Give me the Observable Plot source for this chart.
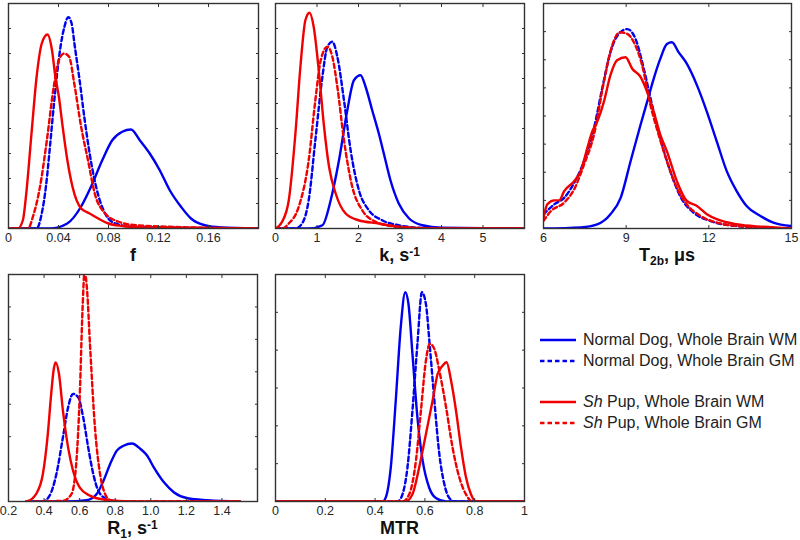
<!DOCTYPE html>
<html>
<head>
<meta charset="utf-8">
<script src="https://cdn.jsdelivr.net/npm/d3@7"></script>
<script src="https://cdn.jsdelivr.net/npm/@observablehq/plot@0.6"></script>
<style>
  html, body { margin: 0; padding: 0; background: #fff; }
  #root { position: relative; width: 800px; height: 540px; font-family: "Liberation Sans", Arial, sans-serif; color: #262626; }
  .pan { position: absolute; }
  .ttl { position: absolute; font-weight: bold; font-size: 18px; line-height: 14px; text-align: center; white-space: nowrap; color: #111; }
  .ttl sub, .ttl sup { font-size: 12px; line-height: 0; }
  .ttl sup { vertical-align: 0.42em; }
  .ttl sub { vertical-align: -0.3em; }
  .leg { position: absolute; left: 540px; width: 260px; font-size: 16px; color: #222; }
  .row { position: absolute; left: 0; height: 20px; white-space: nowrap; display: flex; align-items: center; }
  .row svg { margin-right: 7px; }
</style>
</head>
<body>
<div id="root"></div>
<script>
// ---------- data: [x, relative density] ----------
// Panel f
const f_normWM = [[0,0],[0.033,0],[0.047,0.2],[0.058,0.87],[0.066,1.67],[0.075,2.73],[0.083,3.53],[0.091,3.87],[0.098,3.96],[0.105,3.53],[0.113,3.0],[0.121,2.33],[0.129,1.53],[0.138,0.87],[0.146,0.4],[0.157,0.13],[0.17,0.04],[0.2,0]];
const f_normGM = [[0,0],[0.0225,0],[0.0266,0.6],[0.030,1.7],[0.0334,3.4],[0.0362,4.9],[0.0389,6.2],[0.0417,7.3],[0.0444,8.0],[0.0478,8.45],[0.0505,8.2],[0.053,7.3],[0.0567,6.0],[0.0608,4.4],[0.0649,3.0],[0.0704,1.6],[0.0773,0.6],[0.0855,0.2],[0.102,0.06],[0.2,0]];
const f_pupWM = [[0,0],[0.0074,0],[0.0115,0.33],[0.0142,1.4],[0.0184,3.8],[0.0225,6.07],[0.0266,7.4],[0.0312,7.76],[0.0348,7.13],[0.0375,6.07],[0.0403,5.27],[0.043,4.2],[0.0471,2.73],[0.0512,1.67],[0.0581,0.8],[0.0649,0.6],[0.0718,0.4],[0.08,0.2],[0.091,0.1],[0.107,0.04],[0.2,0]];
const f_pupGM = [[0,0],[0.0156,0],[0.0197,0.5],[0.0252,1.67],[0.0307,3.53],[0.0362,5.67],[0.0403,6.73],[0.0444,7.0],[0.0485,6.87],[0.0526,5.8],[0.0581,4.07],[0.0636,2.73],[0.069,1.4],[0.0773,0.6],[0.0882,0.27],[0.102,0.13],[0.129,0.07],[0.2,0]];
// Panel k
const k_normWM = [[0,0],[0.8,0],[1.13,0.13],[1.33,1.13],[1.53,2.73],[1.73,4.73],[1.89,5.93],[2.05,6.13],[2.17,5.67],[2.33,4.73],[2.49,3.8],[2.61,3.0],[2.77,1.93],[2.97,1.0],[3.22,0.4],[3.54,0.13],[4.0,0.03],[6,0]];
const k_normGM = [[0,0],[0.48,0],[0.64,0.2],[0.8,1.13],[0.96,3.53],[1.13,6.07],[1.25,7.27],[1.37,7.47],[1.49,6.87],[1.65,5.13],[1.81,3.13],[2.01,1.53],[2.25,0.73],[2.57,0.33],[2.97,0.13],[3.6,0.02],[6,0]];
const k_pupWM = [[0,0],[0.16,0.27],[0.32,1.13],[0.48,3.8],[0.6,6.47],[0.72,8.33],[0.82,8.63],[0.92,8.07],[1.05,6.2],[1.17,4.07],[1.29,2.47],[1.45,1.4],[1.69,0.6],[2.0,0.33],[2.49,0.2],[2.97,0.07],[3.8,0],[6,0]];
const k_pupGM = [[0,0],[0.16,0],[0.32,0.2],[0.56,0.87],[0.8,2.73],[0.96,5.13],[1.09,6.73],[1.25,7.27],[1.37,6.87],[1.49,5.67],[1.65,3.53],[1.85,1.67],[2.09,0.73],[2.41,0.27],[2.81,0.09],[3.4,0],[6,0]];
// Panel T2b
const t_normWM = [[6.0,0],[7.35,0.04],[7.95,0.15],[8.43,0.51],[8.8,1.09],[9.16,2.39],[9.52,3.68],[9.76,4.5],[10.0,5.33],[10.24,6.04],[10.48,6.56],[10.66,6.62],[10.9,6.27],[11.2,5.86],[11.57,5.09],[11.93,4.15],[12.29,3.09],[12.65,2.04],[13.01,1.33],[13.37,0.8],[13.86,0.45],[14.34,0.21],[15,0.09]];
const t_normGM = [[6.0,0.5],[6.39,0.86],[6.75,1.09],[7.11,1.62],[7.47,2.39],[7.83,3.56],[8.13,4.98],[8.43,6.27],[8.73,6.92],[9.04,7.09],[9.34,6.74],[9.64,5.68],[9.94,4.39],[10.24,3.21],[10.6,2.04],[10.96,1.15],[11.45,0.56],[12.05,0.27],[13.0,0.09],[15,0]];
const t_pupWM = [[6.0,0.39],[6.14,0.86],[6.39,1.0],[6.57,1.0],[6.75,1.33],[7.11,1.68],[7.35,2.04],[7.59,2.86],[7.77,3.45],[7.95,3.8],[8.19,4.5],[8.43,5.45],[8.67,5.98],[8.98,6.09],[9.22,5.68],[9.52,5.39],[9.76,4.86],[10.0,4.15],[10.24,3.33],[10.48,2.74],[10.84,1.68],[11.2,0.98],[11.57,0.8],[11.93,0.51],[12.29,0.33],[13.0,0.15],[13.98,0.06],[15,0]];
const t_pupGM = [[6.0,0.27],[6.27,0.62],[6.75,0.92],[7.11,1.39],[7.47,2.27],[7.83,3.33],[8.19,5.21],[8.49,6.5],[8.77,6.98],[9.04,6.92],[9.28,6.62],[9.58,5.8],[9.88,4.39],[10.18,3.33],[10.48,2.39],[10.84,1.45],[11.2,0.86],[11.69,0.45],[12.29,0.21],[13.25,0.07],[15,0]];
// Panel R1
const r_normWM = [[0.3,0],[0.525,0],[0.639,0.04],[0.696,0.23],[0.734,0.64],[0.771,1.15],[0.809,1.57],[0.847,1.72],[0.894,1.79],[0.942,1.62],[0.98,1.41],[1.017,1.05],[1.074,0.59],[1.131,0.28],[1.207,0.1],[1.32,0.04],[1.5,0]];
const r_normGM = [[0.3,0],[0.393,0],[0.431,0.18],[0.469,0.84],[0.506,1.98],[0.535,2.9],[0.563,3.32],[0.592,3.21],[0.62,2.6],[0.648,1.67],[0.677,0.84],[0.705,0.33],[0.752,0.07],[0.8,0],[1.5,0]];
const r_pupWM = [[0.3,0],[0.336,0.1],[0.355,0.23],[0.393,0.84],[0.421,2.08],[0.44,3.32],[0.455,4.1],[0.465,4.29],[0.484,3.93],[0.506,2.8],[0.535,1.67],[0.563,0.95],[0.601,0.43],[0.658,0.18],[0.734,0.06],[0.9,0],[1.5,0]];
const r_pupGM = [[0.3,0],[0.506,0.02],[0.554,0.23],[0.582,1.26],[0.601,3.32],[0.616,5.89],[0.628,7.1],[0.642,6.5],[0.658,4.86],[0.686,2.29],[0.715,0.84],[0.743,0.23],[0.771,0.04],[0.8,0],[1.5,0]];
// Panel MTR
const m_normWM = [[0,0],[0.43,0],[0.443,0.11],[0.463,0.9],[0.483,2.67],[0.503,4.61],[0.521,5.53],[0.534,5.22],[0.55,3.9],[0.57,2.22],[0.591,1.08],[0.617,0.37],[0.644,0.09],[0.685,0],[1,0]];
const m_normGM = [[0,0],[0.49,0],[0.51,0.19],[0.53,0.9],[0.55,2.4],[0.57,4.17],[0.588,5.53],[0.604,5.22],[0.62,4.08],[0.638,2.67],[0.658,1.25],[0.678,0.46],[0.698,0.09],[0.72,0],[1,0]];
const m_pupWM = [[0,0],[0.523,0],[0.55,0.19],[0.577,0.9],[0.604,1.78],[0.631,2.67],[0.651,3.37],[0.671,3.59],[0.687,3.68],[0.705,3.2],[0.725,2.4],[0.745,1.43],[0.765,0.64],[0.785,0.19],[0.805,0],[1,0]];
const m_pupGM = [[0,0],[0.51,0],[0.537,0.19],[0.564,1.08],[0.584,2.4],[0.604,3.72],[0.62,4.17],[0.638,4.03],[0.658,3.46],[0.685,2.49],[0.711,1.43],[0.738,0.64],[0.765,0.19],[0.79,0],[1,0]];

// tick values
const f_ticks = [0, 0.04, 0.08, 0.12, 0.16];
const k_ticks = [0, 1, 2, 3, 4, 5];
const t_ticks = [6, 9, 12, 15];
const r_ticks = [0.2, 0.4, 0.6, 0.8, 1.0, 1.2, 1.4];
const m_ticks = [0, 0.2, 0.4, 0.6, 0.8, 1];

// series & legend labels
const seriesNames = ["Normal Dog, Whole Brain WM", "Normal Dog, Whole Brain GM", "Sh Pup, Whole Brain WM", "Sh Pup, Whole Brain GM"];

const BLUE = "#0000f0", RED = "#f00000";
const styles = [
  {stroke: BLUE, dash: null},
  {stroke: BLUE, dash: "4.5,3"},
  {stroke: RED, dash: null},
  {stroke: RED, dash: "4.5,3"}
];

const root = document.getElementById("root");

function panel({left, top, frameW, frameH, series, xDomain, xTicks, yMax, tickFormat, title}) {
  const mL = 8, mT = 3, mB = 37;
  const width = frameW + mL + 10, height = frameH + mT + mB;
  const yTicks = d3.range(1, yMax);
  const marks = [];
  series.forEach((pts, i) => {
    marks.push(Plot.line(pts, {
      x: d => d[0], y: d => d[1],
      stroke: styles[i].stroke, strokeWidth: 2.4,
      strokeDasharray: styles[i].dash, curve: "monotone-x", clip: true,
      strokeLinejoin: "round"
    }));
  });
  marks.push(
    Plot.axisX({anchor: "bottom", ticks: xTicks, tickSize: -3, tickPadding: 8, tickFormat, label: null, fontSize: 12.5, stroke: "#333"}),
    Plot.axisX({anchor: "top", ticks: xTicks, tickSize: -3, tickFormat: () => "", label: null, stroke: "#333"}),
    Plot.axisY({anchor: "left", ticks: yTicks, tickSize: -3, tickFormat: () => "", label: null, stroke: "#333"}),
    Plot.axisY({anchor: "right", ticks: yTicks, tickSize: -3, tickFormat: () => "", label: null, stroke: "#333"}),
    Plot.frame({stroke: "#333", strokeWidth: 1.4})
  );
  const svg = Plot.plot({
    width, height,
    marginLeft: mL, marginRight: 10, marginTop: mT, marginBottom: mB,
    x: {domain: xDomain},
    y: {domain: [0, yMax]},
    style: {fontFamily: "'Liberation Sans', Arial, sans-serif", fontSize: "12.5px", color: "#262626", background: "transparent", overflow: "visible"},
    marks
  });
  svg.classList.add("pan");
  svg.style.left = (left - mL) + "px";
  svg.style.top = (top - mT) + "px";
  root.appendChild(svg);
  const t = document.createElement("div");
  t.className = "ttl";
  t.innerHTML = title;
  t.style.left = left + "px";
  t.style.width = frameW + "px";
  t.style.top = (top + frameH + 20) + "px";
  root.appendChild(t);
}

panel({left: 8, top: 3, frameW: 250, frameH: 225, series: [f_normWM, f_normGM, f_pupWM, f_pupGM],
  xDomain: [0, 0.2], xTicks: f_ticks, yMax: 9, tickFormat: d3.format("~g"), title: "f"});
panel({left: 275, top: 3, frameW: 249, frameH: 225, series: [k_normWM, k_normGM, k_pupWM, k_pupGM],
  xDomain: [0, 6], xTicks: k_ticks, yMax: 9, tickFormat: d3.format("d"), title: "k, s<sup>-1</sup>"});
panel({left: 543, top: 3, frameW: 248, frameH: 225, series: [t_normWM, t_normGM, t_pupWM, t_pupGM],
  xDomain: [6, 15], xTicks: t_ticks, yMax: 8, tickFormat: d3.format("d"), title: "T<sub>2b</sub>, &mu;s"});
panel({left: 8, top: 274, frameW: 249, frameH: 227, series: [r_normWM, r_normGM, r_pupWM, r_pupGM],
  xDomain: [0.2, 1.6], xTicks: r_ticks, yMax: 7, tickFormat: d3.format(".1f"), title: "R<sub>1</sub>, s<sup>-1</sup>"});
panel({left: 275, top: 274, frameW: 249, frameH: 227, series: [m_normWM, m_normGM, m_pupWM, m_pupGM],
  xDomain: [0, 1], xTicks: m_ticks, yMax: 6, tickFormat: d3.format("~g"), title: "MTR"});

// legend
const leg = document.createElement("div");
leg.className = "leg";
leg.style.top = "0px";
const rowY = [330, 351, 392, 413];
seriesNames.forEach((name, i) => {
  const row = document.createElement("div");
  row.className = "row";
  row.style.top = rowY[i] + "px";
  const dash = styles[i].dash ? ` stroke-dasharray="${styles[i].dash}"` : "";
  const label = name.startsWith("Sh ") ? `<i>Sh</i>${name.slice(2)}` : name;
  row.innerHTML = `<svg width="36" height="6"><line x1="0" y1="3" x2="36" y2="3" stroke="${styles[i].stroke}" stroke-width="2.4"${dash}/></svg><span>${label}</span>`;
  leg.appendChild(row);
});
root.appendChild(leg);
</script>
</body>
</html>
